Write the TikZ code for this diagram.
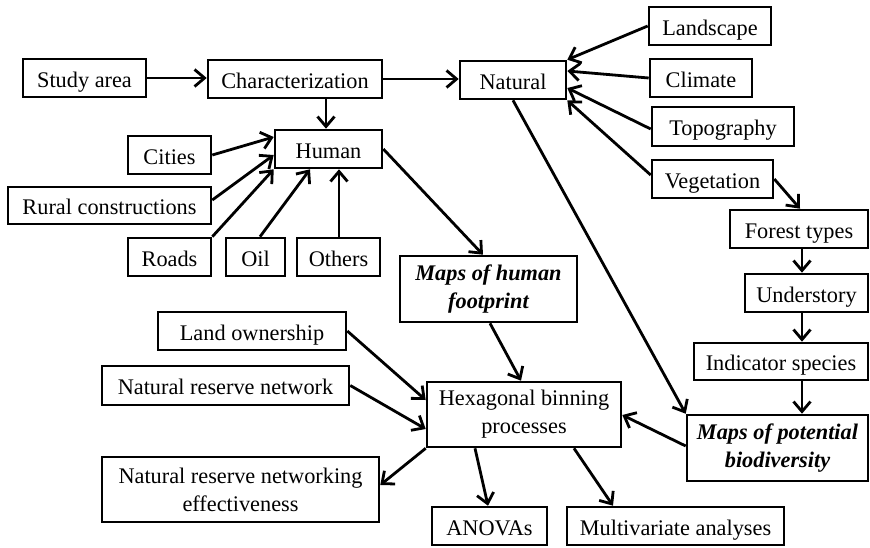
\documentclass[tikz,border=0pt]{standalone}
\usepackage{fontspec}
\setmainfont{Liberation Serif}
\usetikzlibrary{arrows.meta}
\begin{document}
\begin{tikzpicture}[x=1pt,y=-1pt,
  base/.style={draw, line width=2.6pt, inner sep=0pt, align=center,
    font=\fontsize{22.3}{28}\selectfont},
  box/.style={base, text height=18pt, text depth=0pt},
  twoline/.style={base, execute at begin node={\rule{0pt}{20pt}}},
  hl/.style={twoline, font=\fontsize{22.3}{28}\selectfont\bfseries\itshape},
  arr/.style={line width=2.8pt, -{Straight Barb[length=10pt,width=17pt]}}]
\useasboundingbox (0,0) rectangle (870,547);

% top row
\node[box, minimum width=123pt, minimum height=38pt] (study) at (84.5,78) {Study area};
\node[box, minimum width=174pt, minimum height=38pt] (char) at (295,79) {Characterization};
\node[box, minimum width=106pt, minimum height=38pt] (natural) at (513,80) {Natural};

% human branch
\node[box, minimum width=107pt, minimum height=38pt] (human) at (328.5,149) {Human};
\node[box, minimum width=83pt, minimum height=38pt] (cities) at (169.5,155) {Cities};
\node[box, minimum width=203pt, minimum height=37pt] (rural) at (109.5,205.5) {Rural constructions};
\node[box, minimum width=83pt, minimum height=38pt] (roads) at (169.5,257) {Roads};
\node[box, minimum width=59pt, minimum height=38pt] (oil) at (255.5,257) {Oil};
\node[box, minimum width=83pt, minimum height=38pt] (others) at (338.5,257) {Others};

% natural branch
\node[box, minimum width=122pt, minimum height=38pt] (landscape) at (710,26) {Landscape};
\node[box, minimum width=102pt, minimum height=38pt] (climate) at (701,78) {Climate};
\node[box, minimum width=142pt, minimum height=39pt] (topo) at (723,126.5) {Topography};
\node[box, minimum width=121pt, minimum height=38pt] (veget) at (712.5,179) {Vegetation};
\node[box, minimum width=138pt, minimum height=38pt] (forest) at (799,229) {Forest types};
\node[box, minimum width=123pt, minimum height=38pt] (under) at (806.5,293) {Understory};
\node[box, minimum width=174pt, minimum height=37pt] (indic) at (781,361.5) {Indicator species};
\node[hl, minimum width=181pt, minimum height=66pt] (mapspot) at (777.5,448) {Maps of potential\\biodiversity};

% analysis
\node[hl, minimum width=177pt, minimum height=66pt] (mapshum) at (488.5,289) {Maps of human\\footprint};
\node[twoline, minimum width=194pt, minimum height=65pt] (hex) at (524,414.5) {Hexagonal binning\\processes};
\node[box, minimum width=188pt, minimum height=38pt] (landown) at (252,331) {Land ownership};
\node[box, minimum width=247pt, minimum height=39pt] (nrn) at (225.5,385.5) {Natural reserve network};
\node[twoline, minimum width=277pt, minimum height=65pt] (nrne) at (240.5,489.5) {Natural reserve networking\\effectiveness};
\node[box, minimum width=115pt, minimum height=38pt] (anova) at (489.5,526) {ANOVAs};
\node[box, minimum width=217pt, minimum height=38pt] (multi) at (675.5,526) {Multivariate analyses};

% connectors
\draw[arr] (study.east) -- (study.east -| char.west);
\draw[arr] (char.east) -- (char.east -| natural.west);
\draw[arr] (char.south -| 326,0) -- (human.north -| 326,0);

\draw[arr] (cities.east) -- (human.west |- 0,137);
\draw[arr] (rural.east |- 0,200) -- (human.west |- 0,155);
\draw[arr] (roads.north east) -- (human.south west);
\draw[arr] (oil.north -| 260,0) -- (human.south -| 310,0);
\draw[arr] (others.north -| 339,0) -- (human.south -| 339,0);

\draw[arr] (landscape.west) -- (natural.north east);
\draw[arr] (climate.west) -- (natural.east |- 0,71);
\draw[arr] (topo.west |- 0,129) -- (natural.east |- 0,88);
\draw[arr] (veget.west |- 0,175) -- (natural.south east);
\draw[arr] (veget.east) -- (forest.north -| 800,0);
\draw[arr] (forest.south -| 802,0) -- (under.north -| 802,0);
\draw[arr] (under.south -| 802,0) -- (indic.north -| 802,0);
\draw[arr] (indic.south -| 802,0) -- (mapspot.north -| 802,0);

\draw[arr] (natural.south) -- (mapspot.north west);
\draw[arr] (human.east) -- (mapshum.north -| 483,0);
\draw[arr] (mapshum.south -| 490,0) -- (hex.north -| 521,0);
\draw[arr] (mapspot.west |- 0,446) -- (hex.east |- 0,415);
\draw[arr] (landown.east) -- (hex.west |- 0,400);
\draw[arr] (nrn.east) -- (hex.west |- 0,429);
\draw[arr] (hex.south west) -- (nrne.east |- 0,485);
\draw[arr] (hex.south -| 475,0) -- (anova.north -| 488,0);
\draw[arr] (hex.south -| 574,0) -- (multi.north -| 613,0);
\end{tikzpicture}
\end{document}
